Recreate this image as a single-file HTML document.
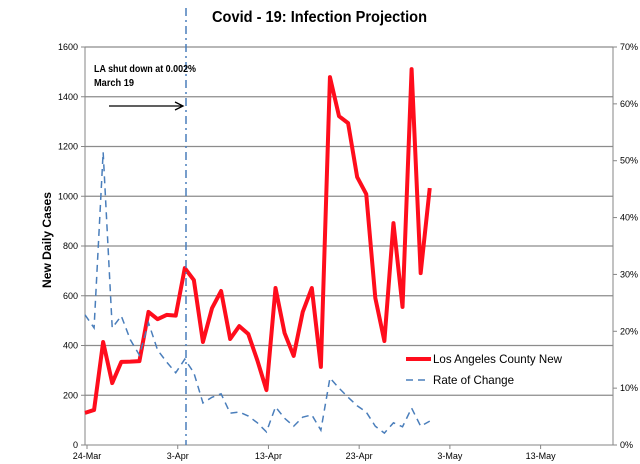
<!DOCTYPE html>
<html><head><meta charset="utf-8"><style>
body{margin:0;background:#fff}
svg{display:block;font-family:"Liberation Sans",sans-serif}
</style></head><body>
<svg id="c" width="640" height="464" viewBox="0 0 640 464">
<text x="212" y="22" textLength="215" lengthAdjust="spacingAndGlyphs" font-size="16" font-weight="bold">Covid - 19: Infection Projection</text>
<text transform="translate(51,240) rotate(-90)" text-anchor="middle" font-size="12" font-weight="bold" textLength="96" lengthAdjust="spacingAndGlyphs">New Daily Cases</text>
<g id="grid"></g><g id="axes"></g><g id="series"></g>
<line x1="186" y1="8" x2="186" y2="445" stroke="#4a7ebb" stroke-width="1.5" stroke-dasharray="8,4,2,4"/>
<text x="94" y="72" font-size="10" font-weight="bold" textLength="102" lengthAdjust="spacingAndGlyphs">LA shut down at 0.002%</text>
<text x="94" y="86" font-size="10" font-weight="bold" textLength="40" lengthAdjust="spacingAndGlyphs">March 19</text>
<g><line x1="109" y1="106" x2="182" y2="106" stroke="#000" stroke-width="1.3"/><path d="M175,102 L183,106 L175,110" fill="none" stroke="#000" stroke-width="1.3"/></g>
<g>
<line x1="406" y1="359" x2="431" y2="359" stroke="#ff0d1c" stroke-width="4"/>
<text x="433" y="363" font-size="12" textLength="129" lengthAdjust="spacingAndGlyphs">Los Angeles County New</text>
<line x1="406" y1="380" x2="430" y2="380" stroke="#4a7ebb" stroke-width="1.5" stroke-dasharray="7,5"/>
<text x="433" y="384" font-size="12" textLength="81" lengthAdjust="spacingAndGlyphs">Rate of Change</text>
</g>
</svg>
<script>
const cases=[129,141,414,249,334,335,337,535,506,523,520,711,663,414,550,619,426,478,446,340,221,631,450,358,535,631,314,1479,1322,1294,1077,1009,591,418,892,555,1511,691,1033];
const rate=[22.9,20.6,51.5,20.6,22.7,18.5,15.8,21.5,16.7,14.6,12.7,15.1,12.7,7.4,8.4,9.0,5.6,5.8,5.1,3.9,2.3,6.7,4.7,3.3,4.9,5.3,2.6,11.8,10.0,8.4,6.9,5.8,3.3,2.1,3.9,3.2,6.5,3.3,4.2];
const leftTicks=[0,200,400,600,800,1000,1200,1400,1600];
const rightTicks=[0,10,20,30,40,50,60,70];
const xTickDays=[0,10,20,30,40,50];
const xTickLabels=["24-Mar","3-Apr","13-Apr","23-Apr","3-May","13-May"];
const X0=85,X1=613,Y0=445,Y1=47,DAYS=58.2;
const x=d=>X0+d*(X1-X0)/DAYS;
const yL=v=>Y0-v*(Y0-Y1)/1600;
const yR=v=>Y0-v*(Y0-Y1)/70;
const NS="http://www.w3.org/2000/svg";
function mk(t,a,p){const e=document.createElementNS(NS,t);for(const k in a)e.setAttribute(k,a[k]);p.appendChild(e);return e;}
const grid=document.getElementById('grid'),axes=document.getElementById('axes'),ser=document.getElementById('series');
leftTicks.forEach(v=>{
 if(v>0){const g=mk('line',{x1:X0,x2:X1,y1:yL(v),y2:yL(v),stroke:'#8c8c8c','stroke-width':1.3},grid);
 
 }
 const t=mk('text',{x:78,y:yL(v)+3,'text-anchor':'end','font-size':9},axes);t.textContent=v;
 
 
 mk('line',{x1:X0-4,x2:X0,y1:yL(v),y2:yL(v),stroke:'#868686'},axes);
});
rightTicks.forEach(v=>{
 const t=mk('text',{x:620,y:yR(v)+3,'font-size':9},axes);t.textContent=v+'%';
 
 
 mk('line',{x1:X1,x2:X1+4,y1:yR(v),y2:yR(v),stroke:'#868686'},axes);
});
mk('line',{x1:X0,x2:X0,y1:Y1,y2:Y0,stroke:'#868686'},axes);
mk('line',{x1:X1,x2:X1,y1:Y1,y2:Y0,stroke:'#868686'},axes);
mk('line',{x1:X0,x2:X1,y1:Y0,y2:Y0,stroke:'#868686'},axes);
xTickDays.forEach((d,i)=>{
 mk('line',{x1:x(d)+2,x2:x(d)+2,y1:Y0,y2:Y0+4,stroke:'#868686'},axes);
 const t=mk('text',{x:x(d)+2,y:Y0+14,'text-anchor':'middle','font-size':9},axes);t.textContent=xTickLabels[i];
 
 
});
const p1=mk('polyline',{points:cases.map((v,i)=>x(i)+','+yL(v)).join(' '),fill:'none',stroke:'#ff0d1c','stroke-width':4,'stroke-linejoin':'round'},ser);


const p2=mk('polyline',{points:rate.map((v,i)=>x(i)+','+yR(v)).join(' '),fill:'none',stroke:'#4a7ebb','stroke-width':1.5,'stroke-dasharray':'7,5'},ser);


</script>
</body></html>
